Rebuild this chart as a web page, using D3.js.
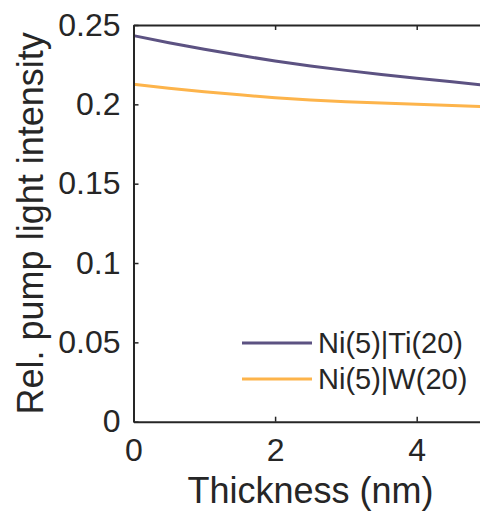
<!DOCTYPE html>
<html><head><meta charset="utf-8">
<script src="https://cdn.jsdelivr.net/npm/d3@7"></script>
<style>body{margin:0;background:#fff;} svg{display:block;} text{font-family:"Liberation Sans",Arial,sans-serif;fill:#262626;}</style>
</head><body>
<svg id="c" width="480" height="515"></svg>
<script>
const thickness = [0, 0.5, 1, 1.5, 2, 2.5, 3, 3.5, 4, 4.5, 5];
const niTi = [0.2433, 0.2388, 0.2347, 0.2309, 0.2273, 0.2242, 0.2214, 0.2188, 0.2164, 0.2142, 0.2118];
const niW  = [0.2126, 0.2102, 0.2080, 0.2060, 0.2042, 0.2028, 0.2017, 0.2008, 0.2000, 0.1992, 0.1984];
const seriesNames = ["Ni(5)|Ti(20)", "Ni(5)|W(20)"];
const seriesColors = ["#5c5282", "#fdb44b"];
const xTicks = [0, 2, 4];
const yTicks = [0, 0.05, 0.1, 0.15, 0.2, 0.25];

const svg = d3.select("#c");
const L = 133.5, R = 487.5, T = 25, B = 421.7;
const x = d3.scaleLinear().domain([0, 5]).range([L, R]);
const y = d3.scaleLinear().domain([0, 0.25]).range([B, T]);
const axColor = "#262626";

svg.append("clipPath").attr("id","pc").append("rect")
  .attr("x", L).attr("y", T).attr("width", R-L).attr("height", B-T);

const line = d3.line().x((d,i)=>x(thickness[i])).y(d=>y(d));
[niTi, niW].forEach((s,k)=>{
  svg.append("path").attr("d", line(s)).attr("fill","none")
    .attr("stroke", seriesColors[k]).attr("stroke-width", 3)
    .attr("clip-path","url(#pc)");
});

const xa = svg.append("g").attr("transform",`translate(0,${B})`)
  .call(d3.axisBottom(x).tickValues(xTicks).tickFormat(d3.format("d")).tickSizeInner(-5).tickSizeOuter(0).tickPadding(17));
const xt = svg.append("g").attr("transform",`translate(0,${T})`)
  .call(d3.axisTop(x).tickValues(xTicks).tickFormat("").tickSizeInner(-5).tickSizeOuter(0));
const ya = svg.append("g").attr("transform",`translate(${L},0)`)
  .call(d3.axisLeft(y).tickValues(yTicks).tickFormat(d=>d===0?"0":String(d)).tickSizeInner(-5).tickSizeOuter(0).tickPadding(13));
[xa, xt, ya].forEach(g=>{
  g.select(".domain").attr("stroke", axColor).attr("stroke-width", 2);
  g.selectAll(".tick line").attr("stroke", axColor).attr("stroke-width", 1.5);
  g.selectAll("text").attr("font-size", 32).attr("fill", axColor)
    .style("font-family", '"Liberation Sans",Arial,sans-serif');
});

svg.append("text").attr("x", (L+R)/2).attr("y", 503).attr("text-anchor","middle")
  .attr("font-size", 36).text("Thickness (nm)");
svg.append("text").attr("transform", `translate(43,${(T+B)/2}) rotate(-90)`)
  .attr("text-anchor","middle").attr("font-size", 36).text("Rel. pump light intensity");

const ly = [343, 379];
seriesNames.forEach((n,k)=>{
  svg.append("line").attr("x1", 242).attr("x2", 312).attr("y1", ly[k]).attr("y2", ly[k])
    .attr("stroke", seriesColors[k]).attr("stroke-width", 3);
  svg.append("text").attr("x", 318).attr("y", ly[k]).attr("dy", "0.35em")
    .attr("font-size", 29).text(n);
});
</script>
</body></html>
